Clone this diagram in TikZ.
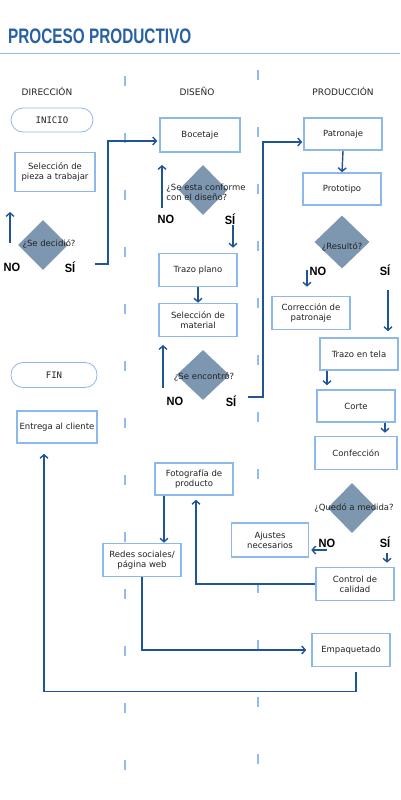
\documentclass[tikz,border=0pt]{standalone}
\usepackage{graphicx}
\usepackage{fontspec}
\setmainfont{DejaVu Sans}
\newfontfamily\titlefont{Liberation Sans}
\newfontfamily\stadfont{DejaVu Sans Mono}
\usetikzlibrary{shapes.geometric,arrows.meta}
\definecolor{flow}{HTML}{1F5596}
\definecolor{frame}{HTML}{8DB8EA}
\definecolor{lane}{HTML}{8FBBEF}
\definecolor{slate}{HTML}{7E97B1}
\definecolor{heading}{HTML}{2861A3}
\definecolor{ink}{HTML}{222222}

\begin{document}
\begin{tikzpicture}[x=1pt, y=-1pt,
  box/.style={draw=frame, line width=1.6pt, fill=white, minimum width=78pt, minimum height=33pt, align=center, text=ink, font=\fontsize{8.5}{10}\selectfont, inner sep=1pt},
  terminal/.style={draw=frame, line width=0.8pt, rounded corners=12pt, minimum width=82pt, minimum height=24pt, text=ink, font=\stadfont\fontsize{9}{10}\selectfont},
  decision/.style={diamond, fill=slate, minimum width=50pt, minimum height=50pt, inner sep=0pt},
  asks/.style={text=ink, font=\fontsize{8.5}{10}\selectfont, inner sep=0pt},
  answer/.style={text=black, font=\titlefont\bfseries\fontsize{12}{13}\selectfont, inner sep=0pt},
  lanehead/.style={text=ink, font=\fontsize{9}{10}\selectfont},
  arrow/.style={-{Straight Barb[length=3.5pt,width=8pt]}, line width=1.4pt, flow},
  divider/.style={lane, line width=2pt, dash pattern=on 10pt off 47pt}
]
\useasboundingbox (0,0) rectangle (400,800);

% title and lanes
\node[anchor=west, inner sep=0pt, text=heading, font=\titlefont\bfseries\fontsize{21}{21}\selectfont] (title) at (8,36) {\scalebox{0.73}[1]{PROCESO PRODUCTIVO}};
\draw[lane, line width=0.8pt] (0,53) -- (400,53);
\draw[divider] (125,76) -- (125,790);
\draw[divider] (258,70) -- (258,790);
\node[lanehead] (hdir) at (47,91) {DIRECCIÓN};
\node[lanehead] (hdis) at (197,91) {DISEÑO};
\node[lanehead] (hpro) at (343,91) {PRODUCCIÓN};

% direccion
\node[terminal] (inicio) at (52,120) {INICIO};
\node[box, minimum width=80pt, minimum height=39pt] (pieza) at (55,172) {Selección de\\pieza a trabajar};
\node[decision] (decide) at (43,245) {};
\node[asks] (qdecide) at (49,244) {¿Se decidió?};
\node[answer] (no1) at (12,267) {\scalebox{0.92}[1]{NO}};
\node[answer] (si1) at (70,267) {\scalebox{0.92}[1]{SÍ}};
\node[terminal, minimum width=86pt, minimum height=25pt] (fin) at (54,375) {FIN};
\node[box, minimum width=80pt, minimum height=32pt] (entrega) at (57,427) {Entrega al cliente};

% diseno
\node[box, minimum width=80pt, minimum height=34pt] (bocetaje) at (200,135) {Bocetaje};
\node[decision, minimum width=49pt] (conforme) at (203,190) {};
\node[asks, align=left] (qconforme) at (206,192) {¿Se esta conforme\\con el diseño?};
\node[answer] (no2) at (166,219) {\scalebox{0.92}[1]{NO}};
\node[answer] (si2) at (230,219) {\scalebox{0.92}[1]{SÍ}};
\node[box] (trazo) at (198,270) {Trazo plano};
\node[box] (material) at (198,320) {Selección de\\material};
\node[decision, minimum width=53pt] (encontro) at (203,375) {};
\node[asks] (qencontro) at (204,377) {¿Se encontró?};
\node[answer] (no3) at (175,401) {\scalebox{0.92}[1]{NO}};
\node[answer] (si3) at (231,401) {\scalebox{0.92}[1]{SÍ}};
\node[box, minimum height=32pt] (foto) at (194,479) {Fotografía de\\producto};
\node[box] (redes) at (142,560) {Redes sociales/\\página web};

% produccion
\node[box, minimum height=32pt] (patronaje) at (343,134) {Patronaje};
\node[box, minimum height=32pt] (prototipo) at (342,189) {Prototipo};
\node[decision, minimum width=55pt, minimum height=53pt] (resulto) at (342,242) {};
\node[asks] (qresulto) at (342,247) {¿Resultó?};
\node[answer] (no4) at (318,271) {\scalebox{0.92}[1]{NO}};
\node[answer] (si4) at (385,270) {\scalebox{0.92}[1]{SÍ}};
\node[box] (correccion) at (311,313) {Corrección de\\patronaje};
\node[box, minimum height=32pt] (tela) at (359,354) {Trazo en tela};
\node[box, minimum height=32pt] (corte) at (356,406) {Corte};
\node[box, minimum width=82pt] (confeccion) at (356,453) {Confección};
\node[decision, minimum width=49pt] (medida) at (352,508) {};
\node[asks] (qmedida) at (354,508) {¿Quedó a medida?};
\node[answer] (no5) at (327,543) {\scalebox{0.92}[1]{NO}};
\node[answer] (si5) at (385,542) {\scalebox{0.92}[1]{SÍ}};
\node[box, minimum width=77pt, minimum height=34pt] (ajustes) at (270,540) {Ajustes\\necesarios};
\node[box] (control) at (355,584) {Control de\\calidad};
\node[box] (empaque) at (351,650) {Empaquetado};

% free ends of the short arrows
\coordinate (si1a) at (95,264);
\coordinate (no1a) at (10,243);
\coordinate (no1b) at (10,212);
\coordinate (no2a) at (162,208);
\coordinate (no2b) at (162,165);
\coordinate (si2a) at (233,225);
\coordinate (no3a) at (163,388);
\coordinate (no3b) at (163,345);
\coordinate (si3a) at (248,397);
\coordinate (no4a) at (307,270);
\coordinate (si4a) at (388,290);
\coordinate (no5a) at (327,550);
\coordinate (si5a) at (387,553);

% connectors
\draw[arrow] (no1a) -- (no1b);
\draw[arrow, shorten >=2pt] (si1a) -- ++(13,0) |- ([yshift=-6pt]bocetaje.west);
\draw[arrow] (no2a) -- (no2b);
\draw[arrow, shorten >=5pt] (si2a) -- (si2a |- trazo.north);
\draw[arrow] (trazo) -- (material);
\draw[arrow] (no3a) -- (no3b);
\draw[arrow, shorten >=1pt] (si3a) -- ++(15,0) |- ([yshift=-8pt]patronaje.west);
\draw[arrow] (patronaje.south) -- (prototipo.north);
\draw[arrow, shorten >=9pt] (no4a) -- (no4a |- correccion.north);
\draw[arrow, shorten >=6pt] (si4a) -- (si4a |- tela.north);
\draw[arrow, shorten >=4pt] ([xshift=-32pt]tela.south) -- ([xshift=-32pt]tela.south |- corte.north);
\draw[arrow, shorten >=3pt] ([xshift=29pt]corte.south) -- ([xshift=29pt]corte.south |- confeccion.north);
\draw[arrow, shorten >=2pt] (no5a) -- (no5a -| ajustes.east);
\draw[arrow, shorten >=4pt] (si5a) -- (si5a |- control.north);
\draw[arrow, shorten >=4pt] (control.west) -| ([xshift=2pt]foto.south);
\draw[arrow] ([xshift=-30pt]foto.south) -- ([xshift=-30pt]foto.south |- redes.north);
\draw[arrow, shorten >=5pt] (redes.south) |- (empaque.west);
\draw[arrow, shorten <=5pt, shorten >=10pt] ([xshift=5pt]empaque.south) -- ++(0,24) -| ([xshift=-13pt]entrega.south);
\end{tikzpicture}
\end{document}
